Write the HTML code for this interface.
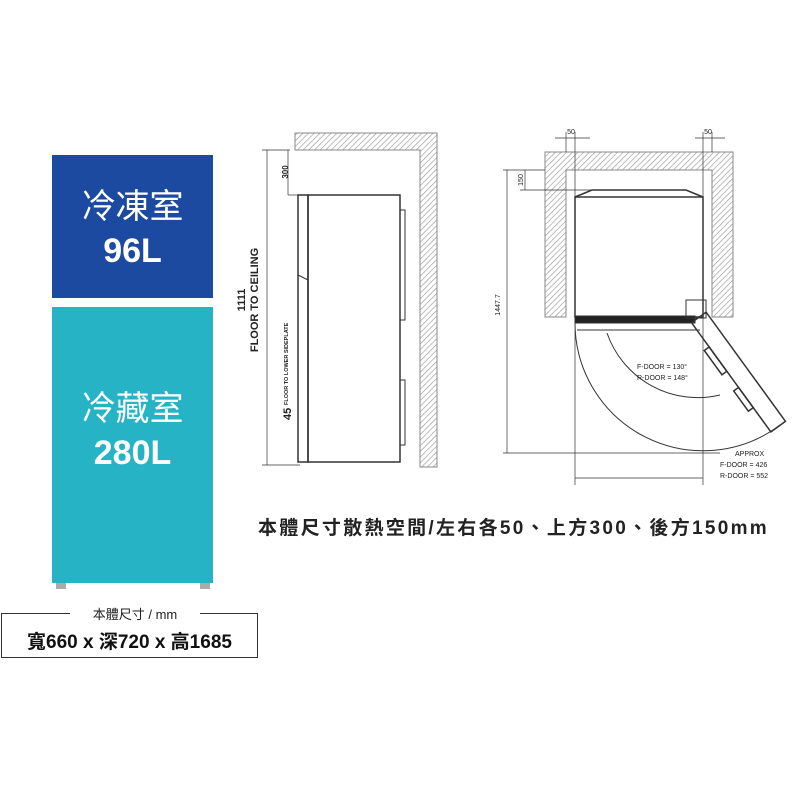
<!DOCTYPE html>
<html><head><meta charset="utf-8"><style>
body{margin:0;width:800px;height:800px;background:#fff;position:relative;overflow:hidden;font-family:"Liberation Sans","Noto Sans CJK TC",sans-serif}
.b{position:absolute;color:#fff;text-align:center;font-size:34px;line-height:44px}
</style></head><body>
<div class="b" style="left:52px;top:155px;width:161px;height:143px;background:#1c4aa0;padding-top:30px;box-sizing:border-box">冷凍室<br><b>96L</b></div>
<div class="b" style="left:52px;top:307px;width:161px;height:276px;background:#25b3c5;padding-top:80px;box-sizing:border-box">冷藏室<br><b>280L</b></div>
<div style="position:absolute;left:56px;top:583px;width:10px;height:6px;background:#aaa"></div>
<div style="position:absolute;left:200px;top:583px;width:10px;height:6px;background:#aaa"></div>
<div style="position:absolute;left:1px;top:613px;width:257px;height:45px;border:1px solid #333;box-sizing:border-box"></div>
<div style="position:absolute;left:70px;top:604px;width:130px;background:#fff;text-align:center;font-size:13px;color:#222">本體尺寸 / mm</div>
<div style="position:absolute;left:1px;top:627px;width:257px;text-align:center;font-size:19px;font-weight:bold;color:#111">寬660 x 深720 x 高1685</div>
<div style="position:absolute;left:258px;top:513px;font-size:19px;font-weight:bold;letter-spacing:2.3px;color:#222;white-space:nowrap">本體尺寸散熱空間/左右各50、上方300、後方150mm</div>
<svg width="800" height="800" style="position:absolute;left:0;top:0" font-family="Liberation Sans,sans-serif">
<defs><pattern id="h" width="4" height="4" patternUnits="userSpaceOnUse" patternTransform="rotate(45)"><rect width="4" height="4" fill="#fff"/><line x1="0" y1="0" x2="0" y2="4" stroke="#999" stroke-width="1.3"/></pattern></defs>
<g stroke="#333" fill="none">
<path d="M295 133H437V467H420V150H295Z" fill="url(#h)" stroke="#888"/>
<rect x="298" y="195" width="10" height="267" stroke-width="1.5"/>
<rect x="308" y="195" width="92" height="267" stroke-width="1.5"/>
<line x1="298" y1="275" x2="308" y2="280"/>
<path d="M400 210h5v110h-5M400 380h5v65h-5"/>
<line x1="267" y1="150" x2="267" y2="465" stroke-width="0.7"/>
<line x1="262" y1="150" x2="290" y2="150" stroke-width="0.7"/>
<line x1="262" y1="465" x2="300" y2="465" stroke-width="0.7"/>
<line x1="288" y1="150" x2="288" y2="195" stroke-width="0.7"/>
<line x1="288" y1="195" x2="300" y2="195" stroke-width="0.7"/>
<path d="M545 152H733V317H712V170H566V317H545Z" fill="url(#h)" stroke="#888"/>
<rect x="575" y="197" width="128" height="120" stroke-width="1.5"/>
<path d="M575 197L592 190H686L703 197" stroke-width="1.5"/>
<rect x="575" y="316" width="120" height="7" fill="#222"/>
<line x1="577" y1="330" x2="700" y2="330"/>
<rect x="686" y="300" width="20" height="18"/>
<path d="M575 323A128 128 0 0 0 780 425" stroke-width="1"/>
<path d="M607 333A96 96 0 0 0 720 395" stroke-width="1"/>
<g transform="translate(698 318) rotate(54)"><rect x="0" y="-10" width="135" height="18" stroke-width="1.5"/><rect x="30" y="8" width="30" height="6" stroke-width="1.5"/><rect x="80" y="8" width="25" height="6" stroke-width="1.5"/></g>
<line x1="507" y1="170" x2="507" y2="453" stroke-width="0.7"/>
<line x1="503" y1="170" x2="545" y2="170" stroke-width="0.7"/>
<line x1="503" y1="453" x2="720" y2="453" stroke-width="0.7"/>
<line x1="525" y1="170" x2="525" y2="190" stroke-width="0.7"/>
<line x1="520" y1="190" x2="592" y2="190" stroke-width="0.7"/>
<line x1="575" y1="330" x2="575" y2="485" stroke-width="0.7"/>
<line x1="703" y1="317" x2="703" y2="485" stroke-width="0.7"/>
<line x1="575" y1="478" x2="703" y2="478" stroke-width="0.7"/>
<line x1="555" y1="138" x2="590" y2="138" stroke-width="0.7"/>
<line x1="695" y1="138" x2="725" y2="138" stroke-width="0.7"/>
<line x1="566" y1="132" x2="566" y2="152" stroke-width="0.7"/>
<line x1="575" y1="132" x2="575" y2="197" stroke-width="0.7"/>
<line x1="703" y1="132" x2="703" y2="197" stroke-width="0.7"/>
<line x1="712" y1="132" x2="712" y2="152" stroke-width="0.7"/>
</g>
<g fill="#222">
<text transform="translate(245 300) rotate(-90)" text-anchor="middle" font-size="11" font-weight="bold">1111</text>
<text transform="translate(258 300) rotate(-90)" text-anchor="middle" font-size="11" font-weight="bold">FLOOR TO CEILING</text>
<text transform="translate(288 172) rotate(-90)" text-anchor="middle" font-size="8" font-weight="bold">300</text>
<text transform="translate(291 420) rotate(-90)" font-size="11" font-weight="bold">45</text>
<text transform="translate(288 405) rotate(-90)" font-size="5.5" font-weight="bold">FLOOR TO LOWER SIDEPLATE</text>
<text transform="translate(500 305) rotate(-90)" text-anchor="middle" font-size="7">1447.7</text>
<text transform="translate(523 180) rotate(-90)" text-anchor="middle" font-size="7">150</text>
<text x="571" y="134" text-anchor="middle" font-size="7">50</text>
<text x="708" y="134" text-anchor="middle" font-size="7">50</text>
<text x="637" y="369" font-size="7">F-DOOR = 130°</text>
<text x="637" y="380" font-size="7">R-DOOR = 148°</text>
<text x="735" y="456" font-size="7">APPROX</text>
<text x="720" y="467" font-size="7">F-DOOR = 426</text>
<text x="720" y="478" font-size="7">R-DOOR = 552</text>
</g>
</svg>
</body></html>
